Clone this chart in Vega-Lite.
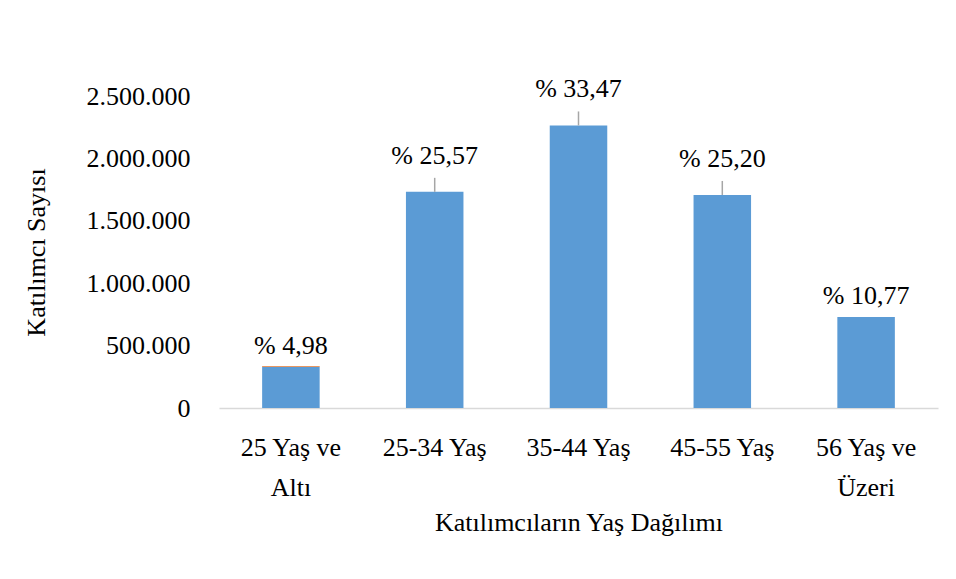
{
  "$schema": "https://vega.github.io/schema/vega-lite/v6.json",
  "autosize": {"type": "none"},
  "padding": {"left": 219, "top": 96, "right": 18, "bottom": 171},
  "width": 719,
  "height": 312,
  "background": "white",
  "config": {
    "locale": {"number": {"decimal": ",", "thousands": ".", "grouping": [3], "currency": ["", ""]}},
    "view": {"stroke": null},
    "font": "Liberation Serif",
    "text": {"font": "Liberation Serif", "fontSize": 26, "color": "#000000"},
    "axis": {"labelFont": "Liberation Serif", "titleFont": "Liberation Serif", "labelFontSize": 26, "titleFontSize": 26, "labelColor": "#000000", "titleColor": "#000000", "titleFontWeight": "normal", "grid": false, "ticks": false}
  },
  "data": {
    "values": [
      {"kategori": "25 Yaş ve Altı", "katilimci": 330000, "ek": 7000, "etiket": "% 4,98"},
      {"kategori": "25-34 Yaş", "katilimci": 1732000, "ek": 0, "etiket": "% 25,57"},
      {"kategori": "35-44 Yaş", "katilimci": 2264000, "ek": 0, "etiket": "% 33,47"},
      {"kategori": "45-55 Yaş", "katilimci": 1707000, "ek": 0, "etiket": "% 25,20"},
      {"kategori": "56 Yaş ve Üzeri", "katilimci": 730000, "ek": 0, "etiket": "% 10,77"}
    ]
  },
  "encoding": {
    "x": {
      "field": "kategori", "type": "nominal", "sort": null,
      "scale": {"paddingInner": 0.6, "paddingOuter": 0.3},
      "axis": {
        "title": "Katılımcıların Yaş Dağılımı",
        "labelAngle": 0,
        "labelPadding": 26,
        "labelLineHeight": 40,
        "titlePadding": 9,
        "domainColor": "#d9d9d9",
        "domainWidth": 1.5,
        "labelExpr": "indexof(datum.label, ' ve ') >= 0 ? [slice(datum.label, 0, indexof(datum.label, ' ve ') + 3), slice(datum.label, indexof(datum.label, ' ve ') + 4)] : datum.label"
      }
    }
  },
  "layer": [
    {
      "transform": [{"fold": ["katilimci", "ek"], "as": ["seri", "deger"]}],
      "mark": {"type": "bar"},
      "encoding": {
        "y": {
          "field": "deger", "type": "quantitative", "stack": "zero",
          "scale": {"domain": [0, 2500000], "nice": false},
          "axis": {"title": "Katılımcı Sayısı", "values": [0, 500000, 1000000, 1500000, 2000000, 2500000], "format": ",d", "domain": false, "labelPadding": 29, "titlePadding": 37}
        },
        "color": {"field": "seri", "type": "nominal", "scale": {"domain": ["katilimci", "ek"], "range": ["#5b9bd5", "#ed7d31"]}, "legend": null},
        "order": {"field": "seri", "sort": "descending"}
      }
    },
    {
      "transform": [{"filter": "datum.katilimci > 1000000"}],
      "mark": {"type": "rule", "color": "#a6a6a6", "strokeWidth": 1.5, "y2Offset": -14},
      "encoding": {
        "y": {"field": "katilimci", "type": "quantitative"},
        "y2": {"field": "katilimci"}
      }
    },
    {
      "transform": [{"filter": "datum.katilimci > 1000000"}],
      "mark": {"type": "text", "dy": -36},
      "encoding": {
        "y": {"field": "katilimci", "type": "quantitative"},
        "text": {"field": "etiket"}
      }
    },
    {
      "transform": [{"filter": "datum.katilimci <= 1000000"}],
      "mark": {"type": "text", "dy": -21},
      "encoding": {
        "y": {"field": "katilimci", "type": "quantitative"},
        "text": {"field": "etiket"}
      }
    }
  ]
}
